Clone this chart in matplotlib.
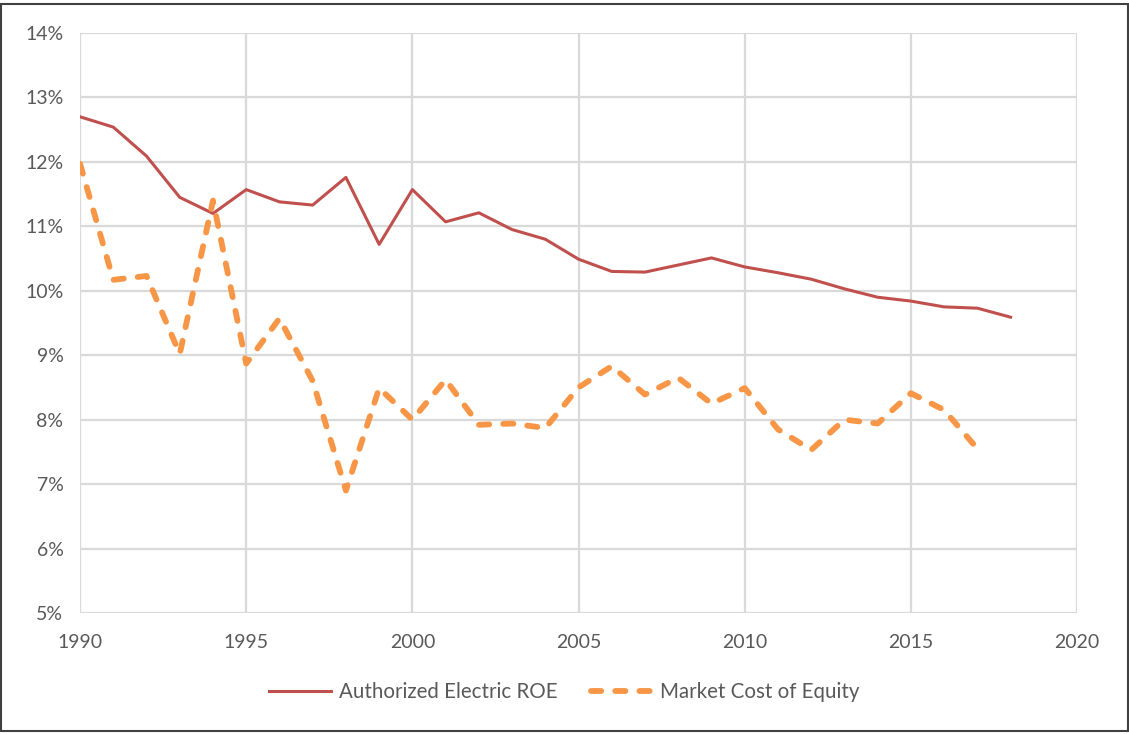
import numpy as np
import matplotlib.pyplot as plt
from matplotlib.patches import Rectangle
from matplotlib.ticker import FuncFormatter

years_roe = list(range(1990, 2019))
roe = [12.70, 12.54, 12.09, 11.45, 11.20, 11.57, 11.38, 11.33, 11.76, 10.72,
       11.57, 11.07, 11.21, 10.95, 10.80, 10.49, 10.30, 10.29, 10.40, 10.51,
       10.37, 10.28, 10.18, 10.03, 9.90, 9.84, 9.75, 9.73, 9.59]

years_coe = list(range(1990, 2018))
coe = [11.97, 10.17, 10.23, 9.02, 11.40, 8.87, 9.57, 8.60, 6.90, 8.49,
       8.00, 8.62, 7.92, 7.94, 7.87, 8.50, 8.83, 8.39, 8.65, 8.25,
       8.49, 7.85, 7.53, 8.00, 7.94, 8.41, 8.15, 7.55]

plt.rcParams['font.family'] = ['Lato', 'DejaVu Sans']

fig = plt.figure(figsize=(11.29, 7.34), dpi=100)
ax = fig.add_axes([0.0709, 0.1649, 0.8831, 0.7901])

ax.plot(years_roe, roe, '-', color='#C0504D', lw=2.2, label='Authorized Electric ROE', zorder=3)
ax.plot(years_coe, coe, '--', color='#F79646', lw=4.2, dashes=(1.75, 2.4),
        dash_capstyle='round', label='Market Cost of Equity', zorder=3)

ax.set_xlim(1990, 2020)
ax.set_ylim(5, 14)
ax.set_xticks(range(1990, 2021, 5))
ax.set_yticks(range(5, 15))
ax.yaxis.set_major_formatter(FuncFormatter(lambda v, p: f'{v:.0f}%'))
ax.grid(True, color='#D9D9D9', lw=1.6)
ax.set_axisbelow(True)
for s in ax.spines.values():
    s.set_visible(False)
ax.tick_params(length=0, labelsize=14, colors='#595959')
ax.tick_params(axis='x', pad=15)
ax.tick_params(axis='y', pad=12)

leg = fig.legend(loc='center', bbox_to_anchor=(0.500, 0.057), ncol=2, frameon=False,
                 fontsize=14.8, handlelength=3.0, columnspacing=1.6, handletextpad=0.4)
for t in leg.get_texts():
    t.set_color('#595959')

fig.patches.append(Rectangle((0.001, 0.004), 0.998, 0.99, transform=fig.transFigure,
                             fill=False, edgecolor='#404040', lw=1.5))

fig.savefig('out.png', dpi=100)
